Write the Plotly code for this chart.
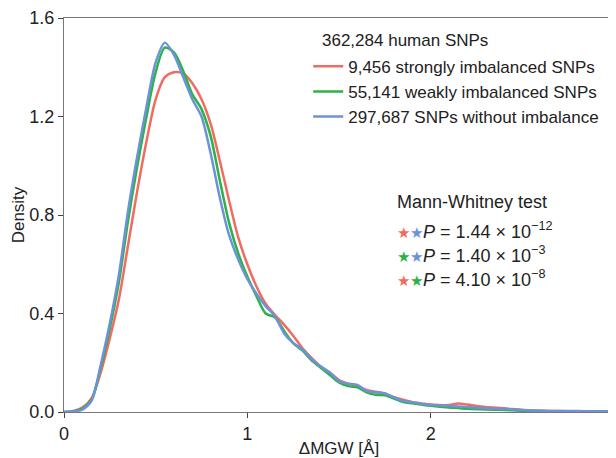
import plotly.graph_objects as go

# density curves (x = ΔMGW in Å)
mgw = [0.0, 0.05, 0.1, 0.15, 0.2, 0.25, 0.3, 0.35, 0.4, 0.45, 0.5, 0.55, 0.6, 0.65,
       0.7, 0.75, 0.8, 0.85, 0.9, 0.95, 1.0, 1.05, 1.1, 1.15, 1.2, 1.25, 1.3, 1.35,
       1.4, 1.45, 1.5, 1.55, 1.6, 1.65, 1.7, 1.75, 1.8, 1.85, 1.9, 1.95, 2.0, 2.1,
       2.15, 2.2, 2.3, 2.4, 2.5, 2.6, 2.7, 2.8, 2.9, 3.0]

strong = [0.0, 0.004, 0.018, 0.055, 0.16, 0.30, 0.46, 0.68, 0.90, 1.10, 1.27, 1.36,
          1.38, 1.375, 1.335, 1.27, 1.17, 1.02, 0.86, 0.71, 0.60, 0.51, 0.44, 0.395,
          0.355, 0.31, 0.26, 0.22, 0.185, 0.16, 0.13, 0.115, 0.105, 0.09, 0.082,
          0.075, 0.06, 0.05, 0.04, 0.035, 0.03, 0.028, 0.035, 0.03, 0.02, 0.015,
          0.008, 0.005, 0.004, 0.003, 0.003, 0.002]

weak = [0.0, 0.002, 0.014, 0.05, 0.18, 0.34, 0.53, 0.78, 1.00, 1.20, 1.38, 1.48,
        1.46, 1.385, 1.29, 1.23, 1.12, 0.94, 0.77, 0.645, 0.55, 0.47, 0.40, 0.385,
        0.33, 0.28, 0.25, 0.21, 0.18, 0.15, 0.12, 0.105, 0.10, 0.08, 0.07, 0.068,
        0.055, 0.04, 0.035, 0.03, 0.025, 0.018, 0.016, 0.013, 0.01, 0.008, 0.005,
        0.004, 0.003, 0.003, 0.002, 0.002]

none = [0.0, 0.002, 0.01, 0.045, 0.19, 0.36, 0.56, 0.82, 1.04, 1.24, 1.42, 1.50,
        1.45, 1.36, 1.27, 1.20, 1.05, 0.87, 0.72, 0.62, 0.54, 0.48, 0.43, 0.39,
        0.32, 0.28, 0.255, 0.215, 0.185, 0.16, 0.125, 0.115, 0.11, 0.085, 0.08,
        0.075, 0.06, 0.045, 0.04, 0.033, 0.028, 0.024, 0.022, 0.02, 0.015, 0.012,
        0.008, 0.005, 0.004, 0.004, 0.003, 0.002]

names = ["9,456 strongly imbalanced SNPs", "55,141 weakly imbalanced SNPs",
         "297,687 SNPs without imbalance"]
colors = ["#f26b61", "#2eb148", "#6c93d8"]

# Mann-Whitney results: star colours of the compared pair and P value text
mw_pairs = [("#f26b61", "#6c93d8"), ("#2eb148", "#6c93d8"), ("#f26b61", "#2eb148")]
mw_p = ["1.44 × 10<sup>−12</sup>", "1.40 × 10<sup>−3</sup>", "4.10 × 10<sup>−8</sup>"]

fig = go.Figure()
for ys, name, col in zip([strong, weak, none], names, colors):
    fig.add_trace(go.Scatter(x=mgw, y=ys, name=name, mode="lines",
                             line=dict(color=col, width=2.5, shape="spline", smoothing=0.8)))

# the page body adds an 8px margin, so the figure is 8px smaller than the window
fig.update_layout(
    width=608, height=450,
    margin=dict(l=56, r=2, t=10, b=46),
    plot_bgcolor="white", paper_bgcolor="white",
    font=dict(family="Liberation Sans, Arial, sans-serif", size=17, color="#222"),
    legend=dict(x=0.444, y=0.922, xanchor="left", yanchor="top",
                font=dict(size=17), bgcolor="rgba(255,255,255,0)", itemwidth=30),
    showlegend=True,
)
fig.update_xaxes(range=[0, 3], dtick=1, showline=True, linecolor="#777", mirror=True,
                 ticks="outside", ticklen=5, tickcolor="#444", showgrid=False, zeroline=False,
                 automargin=False, tickfont=dict(size=18), ticklabeloverflow="allow",
                 title=dict(text="ΔMGW [Å]", standoff=2, font=dict(size=17)))
fig.update_yaxes(range=[0, 1.6], dtick=0.4, tickformat=".1f", showline=True, linecolor="#777",
                 mirror=True, ticks="outside", ticklen=5, tickcolor="#444", showgrid=False,
                 zeroline=False, automargin=False, tickfont=dict(size=18),
                 title=dict(text="Density", standoff=0, font=dict(size=17)))

fig.add_annotation(x=0.4655, y=0.944, xref="paper", yref="paper", xanchor="left",
                   yanchor="middle", text="362,284 human SNPs", showarrow=False,
                   font=dict(size=17))

star = "<span style='color:{};font-size:15px'>★</span>"
fig.add_annotation(x=0.602, y=0.533, xref="paper", yref="paper", xanchor="left",
                   yanchor="middle", text="Mann-Whitney test", showarrow=False,
                   font=dict(size=18))
for i, ((c1, c2), p) in enumerate(zip(mw_pairs, mw_p)):
    fig.add_annotation(x=0.602, y=0.46 - i * 0.061, xref="paper", yref="paper",
                       xanchor="left", yanchor="middle",
                       text=star.format(c1) + star.format(c2) + "<i>P</i> = " + p,
                       showarrow=False, font=dict(size=18))

fig.write_html("out.html")
